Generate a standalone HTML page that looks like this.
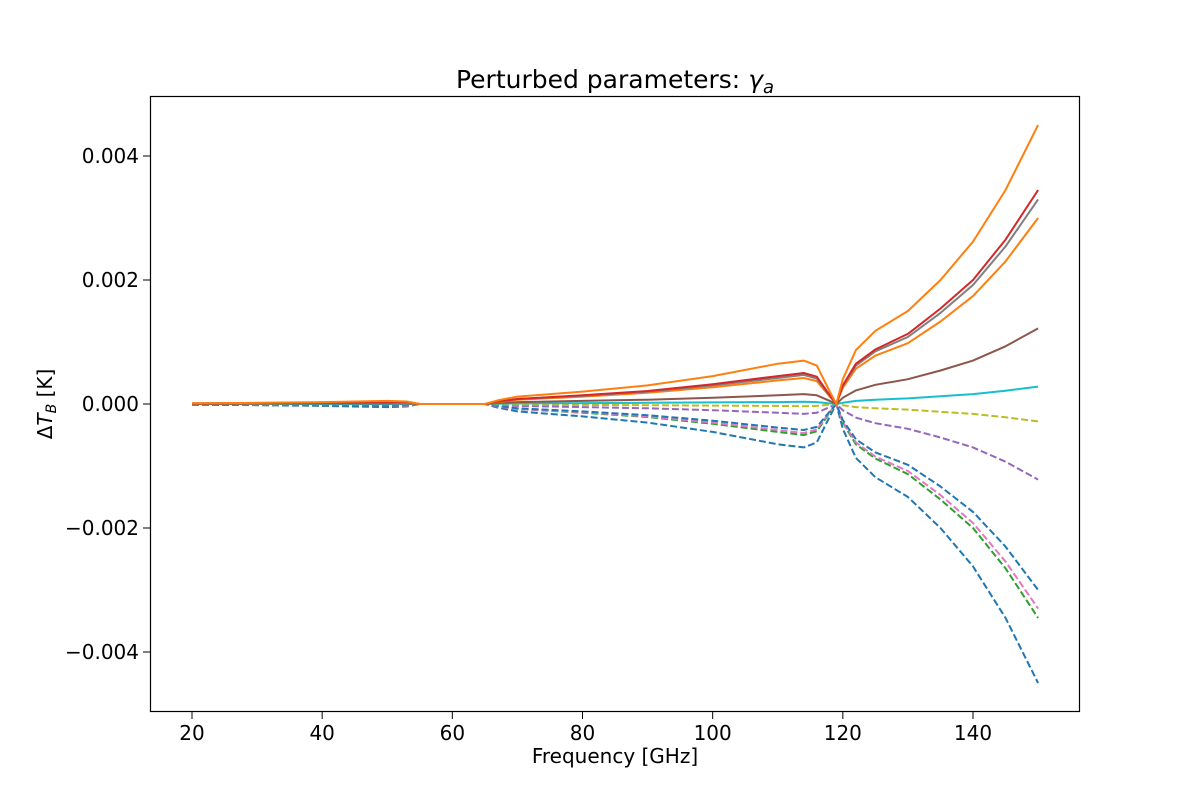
<!DOCTYPE html>
<html><head><meta charset="utf-8"><style>
body{margin:0;background:#fff;font-family:"DejaVu Sans","Liberation Sans",sans-serif}
svg text{font-family:"DejaVu Sans","Liberation Sans",sans-serif}
</style></head><body>
<svg id="chart" width="1200" height="800" xmlns="http://www.w3.org/2000/svg">
<rect x="0" y="0" width="1200" height="800" fill="#fff"/>
<g id="lines"></g>
<rect x="150.5" y="96.5" width="929" height="615" fill="none" stroke="#000" stroke-width="1.2"/>
<g id="ticks"></g>
<text x="615" y="88" font-size="25" text-anchor="middle">Perturbed parameters: <tspan font-style="italic">γ</tspan><tspan font-style="italic" font-size="18" dy="5">a</tspan></text>
<text x="615" y="763" font-size="20" text-anchor="middle">Frequency [GHz]</text>
<text transform="translate(52,404) rotate(-90)" font-size="20" text-anchor="middle">Δ<tspan font-style="italic">T</tspan><tspan font-style="italic" font-size="14" dy="4">B</tspan><tspan dy="-4"> [K]</tspan></text>
</svg>
<script>
const freqs=[20,30,40,50,53,55,60,65,67,70,80,90,100,110,114,116,118,119,120,122,125,130,135,140,145,150];
const sTop=[0.01,0.02,0.03,0.05,0.04,0,0,0,0.06,0.12,0.2,0.3,0.45,0.65,0.7,0.62,0.2,0,0.4,0.87,1.18,1.5,2.0,2.62,3.45,4.5];
const sRed=[0.01,0.015,0.02,0.035,0.03,0,0,0,0.04,0.08,0.14,0.21,0.32,0.45,0.5,0.44,0.14,0,0.3,0.65,0.88,1.13,1.54,2.0,2.65,3.45];
const sGray=[0.01,0.015,0.02,0.03,0.03,0,0,0,0.04,0.08,0.13,0.2,0.3,0.42,0.47,0.41,0.13,0,0.29,0.62,0.85,1.08,1.47,1.92,2.54,3.3];
const sOrange2=[0.01,0.01,0.02,0.03,0.02,0,0,0,0.03,0.07,0.12,0.18,0.27,0.38,0.42,0.37,0.12,0,0.26,0.57,0.78,0.98,1.33,1.74,2.3,3.0];
const sBrown=[0,0.005,0.01,0.01,0.01,0,0,0,0.015,0.03,0.05,0.07,0.1,0.14,0.16,0.14,0.05,0,0.1,0.22,0.31,0.4,0.54,0.7,0.93,1.22];
const sCyan=[0,0,0,0,0,0,0,0,0.005,0.01,0.015,0.02,0.025,0.03,0.035,0.03,0.01,0,0.02,0.05,0.07,0.09,0.125,0.16,0.215,0.28];
const dOlive=[0,0,0,0,0,0,0,0,-0.005,-0.01,-0.015,-0.02,-0.025,-0.03,-0.035,-0.03,-0.01,0,-0.02,-0.05,-0.07,-0.09,-0.125,-0.16,-0.215,-0.28];
const dPurple=[0,-0.005,-0.01,-0.01,-0.01,0,0,0,-0.015,-0.03,-0.05,-0.07,-0.1,-0.14,-0.16,-0.14,-0.05,0,-0.1,-0.22,-0.31,-0.4,-0.54,-0.7,-0.93,-1.22];
const dBlue2=[-0.01,-0.01,-0.02,-0.03,-0.02,0,0,0,-0.03,-0.07,-0.12,-0.18,-0.27,-0.38,-0.42,-0.37,-0.12,0,-0.26,-0.57,-0.78,-0.98,-1.33,-1.74,-2.3,-3.0];
const dPink=[-0.01,-0.015,-0.02,-0.03,-0.03,0,0,0,-0.04,-0.08,-0.13,-0.2,-0.3,-0.42,-0.47,-0.41,-0.13,0,-0.29,-0.62,-0.85,-1.08,-1.47,-1.92,-2.54,-3.3];
const dGreen=[-0.01,-0.015,-0.02,-0.035,-0.03,0,0,0,-0.04,-0.08,-0.14,-0.21,-0.32,-0.45,-0.5,-0.44,-0.14,0,-0.3,-0.65,-0.88,-1.13,-1.54,-2.0,-2.65,-3.45];
const dBlue=[-0.01,-0.02,-0.03,-0.05,-0.04,0,0,0,-0.06,-0.12,-0.2,-0.3,-0.45,-0.65,-0.7,-0.62,-0.2,0,-0.4,-0.87,-1.18,-1.5,-2.0,-2.62,-3.45,-4.5];
const xTicks=[20,40,60,80,100,120,140];
const yTicks=[-0.004,-0.002,0,0.002,0.004];
const yTickLabels=["−0.004","−0.002","0.000","0.002","0.004"];
const X=f=>192+(f-20)*(973-192)/120;
const Y=v=>404-v*62000; // v in K
const NS="http://www.w3.org/2000/svg";
const series=[
 ["solid-orange-top",sTop,"#ff7f0e",false],["solid-red",sRed,"#d62728",false],["solid-gray",sGray,"#7f7f7f",false],
 ["solid-orange",sOrange2,"#ff7f0e",false],["solid-brown",sBrown,"#8c564b",false],["solid-cyan",sCyan,"#17becf",false],
 ["dashed-olive",dOlive,"#bcbd22",true],["dashed-purple",dPurple,"#9467bd",true],["dashed-blue",dBlue2,"#1f77b4",true],
 ["dashed-pink",dPink,"#e377c2",true],["dashed-green",dGreen,"#2ca02c",true],["dashed-blue-bottom",dBlue,"#1f77b4",true]];
const gl=document.getElementById('lines');
series.slice().reverse().forEach(s=>{
 const p=document.createElementNS(NS,'polyline');
 p.setAttribute('points',freqs.map((f,i)=>X(f).toFixed(1)+','+Y(s[1][i]/1000).toFixed(1)).join(' '));
 p.setAttribute('fill','none');p.setAttribute('stroke',s[2]);p.setAttribute('stroke-width','2');
 p.setAttribute('stroke-linejoin','round');
 if(s[3])p.setAttribute('stroke-dasharray','7,3');
 
 
 gl.appendChild(p);
});
const gt=document.getElementById('ticks');
xTicks.forEach(t=>{
 const l=document.createElementNS(NS,'line');
 l.setAttribute('x1',X(t));l.setAttribute('x2',X(t));l.setAttribute('y1',712);l.setAttribute('y2',719);l.setAttribute('stroke','#000');
 
 
 gt.appendChild(l);
 const tx=document.createElementNS(NS,'text');
 tx.setAttribute('x',X(t));tx.setAttribute('y',740);tx.setAttribute('font-size','20');tx.setAttribute('text-anchor','middle');
 tx.textContent=t;
 
 
 gt.appendChild(tx);
});
yTicks.forEach((t,i)=>{
 const l=document.createElementNS(NS,'line');
 l.setAttribute('x1',143);l.setAttribute('x2',150);l.setAttribute('y1',Y(t));l.setAttribute('y2',Y(t));l.setAttribute('stroke','#000');
 
 
 gt.appendChild(l);
 const tx=document.createElementNS(NS,'text');
 tx.setAttribute('x',139);tx.setAttribute('y',Y(t)+7);tx.setAttribute('font-size','20');tx.setAttribute('text-anchor','end');
 tx.textContent=yTickLabels[i];
 
 
 gt.appendChild(tx);
});
</script>
</body></html>
